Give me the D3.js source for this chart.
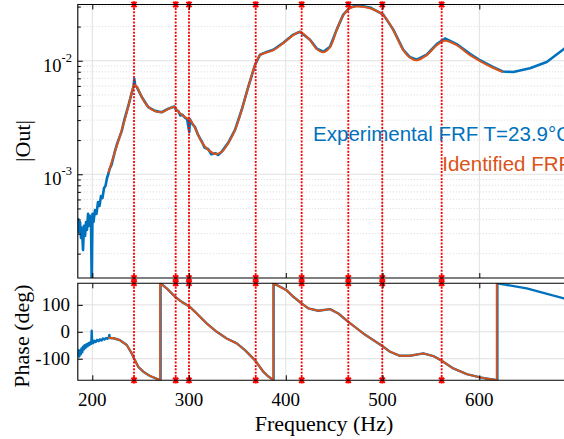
<!DOCTYPE html>
<html><head><meta charset="utf-8">
<script src="https://cdn.jsdelivr.net/npm/d3@7"></script>
<style>body{margin:0;background:#fff;overflow:hidden}</style>
</head><body><svg id="c" width="564" height="439"></svg>
<script>
// ---------- data ----------
const xTicks = [200, 300, 400, 500, 600, 700];
const xTickLabels = ["200", "300", "400", "500", "600", ""];
const phaseTicks = [-100, 0, 100];
const magMajorTicks = [1e-3, 1e-2];
const magMajorExp = ["-3", "-2"];
const markerFreqs = [243.1, 286.2, 299.9, 368.9, 416.4, 464.6, 499.7, 561.1];

// Experimental FRF magnitude (blue)
const expMagFreq = [185.2,186.2,187.3,188.3,189.3,190.4,191.4,192.5,193.5,194.5,195.6,196.6,197.6,198.7,199.4,200.2,201.2,202.8,204.3,205.9,207.4,209,210.5,212.1,213.6,215.2,216.5,218,220,223.4,226,230.4,233,237.2,241,242.5,243.4,244.3,246,251.1,257.9,264.8,271.7,278.6,284.8,286.5,288.9,291,293,295.8,298,300.2,301,303,306.2,309,313.1,316,319.9,323,327.5,330,333.7,340.6,347.5,354.4,361.2,368.2,373.3,378.5,387.1,397.4,407.8,414.7,425,432,438.8,445.7,452.6,459.4,466.4,473.3,480,487,500.8,511.1,521.4,528,535.3,545.6,556,564.5,576.6,590.4,600.7,614.5,624.2,635.1,652.4,669.7,687.5,700];
const expMag = [4.12e-4,3.10e-4,3.80e-4,2.75e-4,3.37e-4,2.16e-4,3.51e-4,2.86e-4,3.80e-4,3.24e-4,4.48e-4,3.51e-4,4.30e-4,3.65e-4,1.0e-4,4.48e-4,3.80e-4,4.85e-4,4.48e-4,5.70e-4,5.26e-4,6.44e-4,6.18e-4,7.57e-4,7.88e-4,9.27e-4,1.0e-3,1.12e-3,1.22e-3,1.60e-3,1.90e-3,2.40e-3,3.00e-3,4.00e-3,5.30e-3,5.90e-3,6.90e-3,6.10e-3,5.85e-3,4.80e-3,3.90e-3,3.62e-3,3.52e-3,3.78e-3,3.95e-3,3.70e-3,3.60e-3,3.30e-3,3.35e-3,3.15e-3,3.05e-3,2.35e-3,3.05e-3,2.80e-3,2.60e-3,2.25e-3,1.95e-3,1.72e-3,1.66e-3,1.50e-3,1.53e-3,1.48e-3,1.58e-3,1.90e-3,2.46e-3,3.70e-3,5.90e-3,9.20e-3,1.13e-2,1.18e-2,1.25e-2,1.44e-2,1.70e-2,1.80e-2,1.53e-2,1.28e-2,1.20e-2,1.33e-2,1.88e-2,2.55e-2,2.95e-2,3.06e-2,3.02e-2,2.95e-2,2.55e-2,1.88e-2,1.25e-2,1.08e-2,1.02e-2,1.13e-2,1.40e-2,1.57e-2,1.40e-2,1.15e-2,1.01e-2,8.80e-3,8.05e-3,7.95e-3,8.60e-3,9.75e-3,1.27e-2,1.52e-2];

// Identified FRF magnitude (orange)
const idMagFreq = [216.5,223.4,230.4,237.2,241,243.4,246,251.1,257.9,264.8,271.7,278.6,284.8,288.9,295.8,301,306.2,313.1,319.9,327.5,333.7,340.6,347.5,354.4,361.2,368.2,373.3,378.5,387.1,397.4,407.8,414.7,425,432,438.8,445.7,452.6,459.4,466.4,473.3,487,500.8,511.1,521.4,528,535.3,545.6,556,564.5,576.6,590.4,600.7,614.5,624.2];
const idMag = [1.03e-3,1.58e-3,2.45e-3,3.94e-3,5.4e-3,6.1e-3,5.9e-3,4.79e-3,3.91e-3,3.60e-3,3.53e-3,3.76e-3,3.91e-3,3.55e-3,3.19e-3,3.01e-3,2.56e-3,1.92e-3,1.64e-3,1.51e-3,1.57e-3,1.89e-3,2.45e-3,3.68e-3,5.86e-3,9.16e-3,1.12e-2,1.17e-2,1.24e-2,1.43e-2,1.68e-2,1.79e-2,1.52e-2,1.27e-2,1.19e-2,1.32e-2,1.86e-2,2.52e-2,2.91e-2,3.0e-2,2.9e-2,2.52e-2,1.86e-2,1.24e-2,1.07e-2,1.01e-2,1.12e-2,1.37e-2,1.50e-2,1.37e-2,1.12e-2,9.94e-3,8.63e-3,7.96e-3];

// Experimental FRF phase (blue)
const expPhFreq = [185.2,185.8,186.5,187.2,188,188.8,189.6,190.4,191.2,192,193,194,195,196,197,198,199,199.4,199.8,201,202,203.5,205,206.5,208,209.5,211,212.5,214,215.5,217,217.6,218.2,222,228.6,235.6,240.7,243.1,247.5,252.7,259.6,265,270.6,270.6,276.9,286.5,292.4,300,307.9,318.2,328.6,338.9,349.3,357.8,368.5,376.7,382,387.4,387.4,400.9,407.8,416.4,423.3,433.6,445.7,454.3,464.6,480.1,499.7,507.7,518,528.4,542.1,552.5,561.1,573.1,587,600.7,610,618.7,618.7,649,687.5,700];
const expPh = [-88,-68,-92,-70,-84,-62,-76,-55,-66,-50,-60,-46,-54,-42,-49,-38,-44,4,-36,-42,-33,-38,-30,-35,-28,-32,-25,-29,-23,-26,-21,-12,-23,-24,-31,-49,-80,-99,-130,-148,-164,-172,-180,180,161,127,111,95,68,31,0,-25,-43,-68,-107,-148,-166,-180,180,154,130,105,87,78,84,68,37,-6,-53,-74,-89,-89,-80,-90,-107,-136,-157,-169,-175,-180,180,161,124,113];

// Identified FRF phase (orange)
const idPhFreq = [216.5,222,228.6,235.6,240.7,243.1,247.5,252.7,259.6,265,270,270,276.9,286.5,292.4,300,307.9,318.2,328.6,338.9,349.3,357.8,368.5,376.7,382,387.1,387.1,400.9,407.8,416.4,423.3,433.6,445.7,454.3,464.6,480.1,499.7,507.7,518,528.4,542.1,552.5,561.1,573.1,587,600.7,610,618,618,619.5];
const idPh = [-22,-24,-31,-49,-80,-99,-130,-148,-164,-172,-180,180,161,127,111,95,68,31,0,-25,-43,-68,-107,-148,-166,-180,180,154,130,105,87,78,84,68,37,-6,-53,-74,-89,-89,-80,-90,-107,-136,-157,-169,-175,-180,180,179];

// ---------- layout ----------
const BLUE = "#0072BD", ORANGE = "#D95319";
const serif = "'Liberation Serif','Times New Roman',serif";
const sans = "'Liberation Sans',Arial,sans-serif";
const L = 77.8, R = 576.05;
const magTop = 4.5, magBot = 278, phTop = 283.3, phBot = 380.3;

const svg = d3.select("#c");
svg.append("rect").attr("width",564).attr("height",439).attr("fill","#fff");

const x = d3.scaleLinear().domain([185, 700]).range([L, R]);
const yM = d3.scaleLog().domain([1.22e-4, 3.13e-2]).range([magBot, magTop]);
const yP = d3.scaleLinear().domain([-180, 180]).range([phBot, phTop]);

const defs = svg.append("defs");
defs.append("clipPath").attr("id","cm").append("rect").attr("x",L).attr("y",magTop).attr("width",R-L).attr("height",magBot-magTop);
defs.append("clipPath").attr("id","cp").append("rect").attr("x",L).attr("y",phTop).attr("width",R-L).attr("height",phBot-phTop);

// minor log values
const magMinor = [];
[-4,-3,-2].forEach(e => { for (let k=2;k<=9;k++){ const v=k*Math.pow(10,e); if(v>=1.22e-4 && v<=3.13e-2) magMinor.push(v);} });

// ---------- grids ----------
const gm = svg.append("g");
gm.selectAll("line.mn").data(magMinor).join("line")
  .attr("x1",L).attr("x2",R).attr("y1",d=>yM(d)).attr("y2",d=>yM(d))
  .attr("stroke","#d0d0d0").attr("stroke-width",0.8).attr("stroke-dasharray","1,2");
gm.selectAll("line.mj").data(magMajorTicks).join("line")
  .attr("x1",L).attr("x2",R).attr("y1",d=>yM(d)).attr("y2",d=>yM(d))
  .attr("stroke","#e0e0e0").attr("stroke-width",1);
gm.selectAll("line.vx").data(xTicks).join("line")
  .attr("x1",d=>x(d)).attr("x2",d=>x(d)).attr("y1",magTop).attr("y2",magBot)
  .attr("stroke","#e0e0e0").attr("stroke-width",1);
const gp = svg.append("g");
gp.selectAll("line.h").data(phaseTicks).join("line")
  .attr("x1",L).attr("x2",R).attr("y1",d=>yP(d)).attr("y2",d=>yP(d))
  .attr("stroke","#e0e0e0").attr("stroke-width",1);
gp.selectAll("line.v").data(xTicks).join("line")
  .attr("x1",d=>x(d)).attr("x2",d=>x(d)).attr("y1",phTop).attr("y2",phBot)
  .attr("stroke","#e0e0e0").attr("stroke-width",1);

// ---------- curves ----------
const lineM = d3.line().x(d=>x(d[0])).y(d=>yM(d[1]));
const lineP = d3.line().x(d=>x(d[0])).y(d=>yP(d[1]));
const zip = (a,b)=>a.map((v,i)=>[v,b[i]]);

const cm = svg.append("g").attr("clip-path","url(#cm)");
cm.append("path").datum(zip(expMagFreq,expMag)).attr("d",lineM)
  .attr("fill","none").attr("stroke",BLUE).attr("stroke-width",2.6).attr("stroke-linejoin","round");
cm.append("path").datum(zip(idMagFreq,idMag)).attr("d",lineM.curve(d3.curveCatmullRom))
  .attr("fill","none").attr("stroke",ORANGE).attr("stroke-width",2).attr("stroke-linejoin","round");

const cp = svg.append("g").attr("clip-path","url(#cp)");
cp.append("path").datum(zip(expPhFreq,expPh)).attr("d",lineP)
  .attr("fill","none").attr("stroke",BLUE).attr("stroke-width",2.4).attr("stroke-linejoin","round");
cp.append("path").datum(zip(idPhFreq,idPh)).attr("d",lineP)
  .attr("fill","none").attr("stroke",ORANGE).attr("stroke-width",1.9).attr("stroke-linejoin","round");

// ---------- red mode markers ----------
const gr = svg.append("g");
[[magTop,magBot],[phTop,phBot]].forEach(([t,b])=>{
  gr.selectAll(null).data(markerFreqs).join("line")
    .attr("x1",d=>x(d)).attr("x2",d=>x(d)).attr("y1",t).attr("y2",b)
    .attr("stroke","#ff0000").attr("stroke-width",1.8).attr("stroke-dasharray","2,1.4");
  [t,b].forEach(yy=>{
    gr.selectAll(null).data(markerFreqs).join("path")
      .attr("d",d=>{const cx=x(d),s=2.6;return `M${cx-s},${yy-s}L${cx+s},${yy+s}M${cx-s},${yy+s}L${cx+s},${yy-s}M${cx},${yy-s-0.6}L${cx},${yy+s+0.6}`;})
      .attr("stroke","#ff0000").attr("stroke-width",2);
  });
});

// ---------- axes ----------
function frame(t,b){
  svg.append("path").attr("d",`M${R},${t}H${L}V${b}H${R}`).attr("fill","none").attr("stroke","#000").attr("stroke-width",1.1);
}
frame(magTop,magBot); frame(phTop,phBot);

function axisNoDomain(g){ g.select(".domain").remove(); g.selectAll("line").attr("stroke","#000"); }
[[magTop,d3.axisTop],[magBot,d3.axisBottom],[phTop,d3.axisTop],[phBot,d3.axisBottom]].forEach(([yy,ax])=>{
  svg.append("g").attr("transform",`translate(0,${yy})`)
    .call(ax(x).tickValues(xTicks).tickSize(-5).tickFormat(""))
    .call(axisNoDomain);
});
svg.append("g").attr("transform",`translate(${L},0)`)
  .call(d3.axisLeft(yM).tickValues(magMajorTicks).tickSize(-5).tickFormat("")).call(axisNoDomain);
svg.append("g").attr("transform",`translate(${L},0)`)
  .call(d3.axisLeft(yM).tickValues(magMinor).tickSize(-3).tickFormat("")).call(axisNoDomain);
svg.append("g").attr("transform",`translate(${L},0)`)
  .call(d3.axisLeft(yP).tickValues(phaseTicks).tickSize(-5).tickFormat("")).call(axisNoDomain);

// tick labels
const mt = svg.append("g").attr("font-family",serif).attr("fill","#000");
magMajorTicks.forEach((v,i)=>{
  const t = mt.append("text").attr("x",72).attr("y",yM(v)+11).attr("text-anchor","end").attr("font-size",18.5);
  t.append("tspan").text("10");
  t.append("tspan").attr("dy",-10).attr("font-size",12.5).text(magMajorExp[i]);
});
phaseTicks.forEach(v=>{
  mt.append("text").attr("x",70).attr("y",yP(v)+6).attr("text-anchor","end").attr("font-size",19).text(String(v));
});
xTicks.forEach((v,i)=>{
  mt.append("text").attr("x",x(v)).attr("y",406).attr("text-anchor","middle").attr("font-size",19).text(xTickLabels[i]);
});

// axis titles
svg.append("text").attr("transform","translate(30,141) rotate(-90)").attr("text-anchor","middle")
  .attr("font-family",serif).attr("font-size",22).text("|Out|");
svg.append("text").attr("transform","translate(29,336) rotate(-90)").attr("text-anchor","middle")
  .attr("font-family",serif).attr("font-size",22).text("Phase (deg)");
svg.append("text").attr("x",324).attr("y",431).attr("text-anchor","middle")
  .attr("font-family",serif).attr("font-size",22).text("Frequency (Hz)");

// legend
svg.append("text").attr("x",571).attr("y",141).attr("text-anchor","end").attr("font-family",sans)
  .attr("font-size",20.5).attr("fill",BLUE).text("Experimental FRF T=23.9\u00B0C");
svg.append("text").attr("x",571).attr("y",170.5).attr("text-anchor","end").attr("font-family",sans)
  .attr("font-size",20.5).attr("fill",ORANGE).text("Identified FRF");
</script></body></html>
